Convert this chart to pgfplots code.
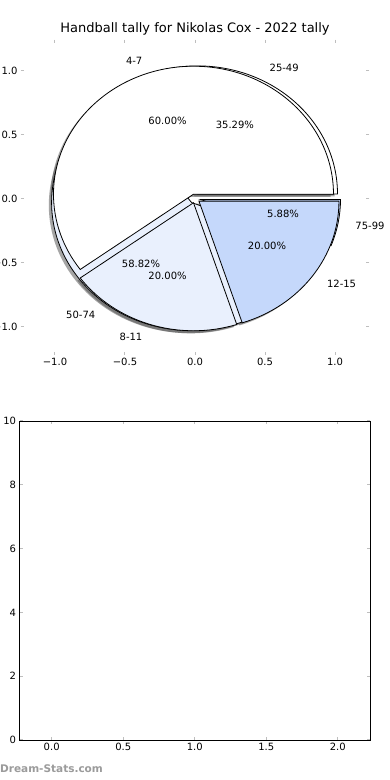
\documentclass[border=0pt]{standalone}
\usepackage{pgfplots}
\pgfplotsset{compat=1.18}
\usepackage{fontspec}
\setmainfont{DejaVu Sans}
\definecolor{pieLight}{RGB}{233,240,253}
\definecolor{pieBlue}{RGB}{197,216,251}
\definecolor{tickgray}{RGB}{190,190,190}
\definecolor{wmgray}{RGB}{155,155,155}
\newcommand{\lab}{\fontsize{10bp}{12bp}\selectfont}
% wedge: center x, center y, start angle, end angle, fill colour
\newcommand{\pieWedge}[5]{%
  \filldraw[fill=#5, draw=black, line width=0.8bp]
    (axis cs:#1,#2) -- (axis cs:{#1+cos(#3)},{#2+sin(#3)})
    arc[start angle=#3, end angle=#4, x radius=140bp, y radius=128bp] -- cycle;}
% shadow of a wedge (offset -0.02,-0.02)
\newcommand{\pieShadow}[4]{%
  \fill[black!70, fill opacity=0.5]
    (axis cs:{#1-0.02},{#2-0.02}) -- (axis cs:{#1-0.02+cos(#3)},{#2-0.02+sin(#3)})
    arc[start angle=#3, end angle=#4, x radius=140bp, y radius=128bp] -- cycle;}
\begin{document}
\begin{tikzpicture}
\useasboundingbox (0,0) rectangle (390bp,780bp);
\clip (0,0) rectangle (390bp,780bp);
\fill[white] (0,0) rectangle (390bp,780bp);
% ---------------- top axes: two overlapping pies ----------------
\begin{axis}[
  at={(21bp,425bp)}, anchor=south west, scale only axis,
  width=348bp, height=315bp,
  xmin=-1.242857, xmax=1.242857, ymin=-1.2227, ymax=1.2383,
  xtick={-1,-0.5,0,0.5,1}, xticklabels={−1.0,−0.5,0.0,0.5,1.0},
  ytick={-1,-0.5,0,0.5,1}, yticklabels={−1.0,−0.5,0.0,0.5,1.0},
  axis line style={draw=none},
  tick style={draw=tickgray, line width=1bp}, major tick length=3bp,
  tick label style={font=\lab},
  clip=false,
]
% Pie B: 25-49 = 6, 50-74 = 10, 75-99 = 1  (35.29%, 58.82%, 5.88%)
% Pie A: 4-7 = 3, 8-11 = 1, 12-15 = 1       (60%, 20%, 20%)
% shadows
\pieShadow{0.0178}{0.0358}{0}{127.06}
\pieShadow{-0.0241}{-0.0319}{127.06}{338.82}
\pieShadow{0.0393}{-0.0074}{338.82}{360}
\pieShadow{-0.0108}{0.0333}{0}{216}
\pieShadow{-0.0108}{-0.0333}{216}{288}
\pieShadow{0.0283}{-0.0206}{288}{360}
% pie B
\pieWedge{0.0178}{0.0358}{0}{127.06}{white}
\pieWedge{-0.0241}{-0.0319}{127.06}{338.82}{pieLight}
\pieWedge{0.0393}{-0.0074}{338.82}{360}{pieBlue}
% pie A
\pieWedge{-0.0108}{0.0333}{0}{216}{white}
\pieWedge{-0.0108}{-0.0333}{216}{288}{pieLight}
\pieWedge{0.0283}{-0.0206}{288}{360}{pieBlue}
% labels pie B
\node[anchor=west, font=\lab] at (axis cs:0.508,1.020) {25-49};
\node[anchor=east, font=\lab] at (axis cs:-0.687,-0.910) {50-74};
\node[anchor=west, font=\lab] at (axis cs:1.121,-0.210) {75-99};
\node[font=\lab] at (axis cs:0.285,0.573) {35.29\%};
\node[font=\lab] at (axis cs:-0.386,-0.511) {58.82\%};
\node[font=\lab] at (axis cs:0.629,-0.118) {5.88\%};
% labels pie A
\node[anchor=east, font=\lab] at (axis cs:-0.351,1.079) {4-7};
\node[anchor=east, font=\lab] at (axis cs:-0.351,-1.079) {8-11};
\node[anchor=west, font=\lab] at (axis cs:0.918,-0.668) {12-15};
\node[font=\lab] at (axis cs:-0.196,0.604) {60.00\%};
\node[font=\lab] at (axis cs:-0.196,-0.604) {20.00\%};
\node[font=\lab] at (axis cs:0.514,-0.373) {20.00\%};
\end{axis}
\node[font=\fontsize{13bp}{15bp}\selectfont] at (195bp,751bp) {Handball tally for Nikolas Cox - 2022 tally};
% ---------------- bottom axes: empty ----------------
\begin{axis}[
  at={(19.5bp,40bp)}, anchor=south west, scale only axis,
  width=350.5bp, height=319bp,
  xmin=-0.225, xmax=2.225, ymin=0, ymax=10,
  xtick={0,0.5,1,1.5,2}, xticklabels={0.0,0.5,1.0,1.5,2.0},
  ytick={0,2,4,6,8,10}, yticklabels={0,2,4,6,8,10},
  axis line style={line width=0.8bp},
  tick style={draw=tickgray, line width=1bp}, major tick length=3bp,
  tick label style={font=\lab},
]
\end{axis}
\node[anchor=west, inner sep=0pt, text=wmgray, font=\fontsize{10.5bp}{12bp}\selectfont\bfseries] at (0bp,11bp) {Dream-Stats.com};
\end{tikzpicture}
\end{document}
